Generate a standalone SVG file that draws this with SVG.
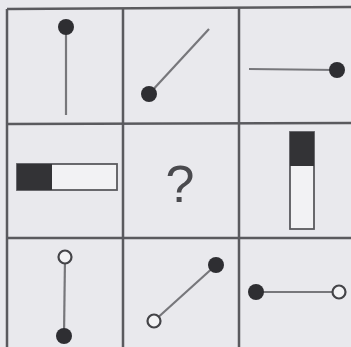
<svg xmlns="http://www.w3.org/2000/svg" width="351" height="347" viewBox="0 0 351 347">
<style>
.grid{stroke:#5a5a5e;stroke-width:2.5;fill:none}
.stick{stroke:#77777b;stroke-width:2.2;fill:none}
.dot{fill:#2e2e32}
.ring{fill:#f2f2f4;stroke:#444448;stroke-width:2.2}
.box{fill:#f2f2f4;stroke:#5a5a5e;stroke-width:1.8}
.dark{fill:#333336}
.q{font-family:"Liberation Sans",Arial,sans-serif;font-size:52px;fill:#4a4a4e;text-anchor:middle}
</style>
<rect width="351" height="347" fill="#e9e9ed"/>
<g id="grid">
<line class="grid" x1="7" y1="9" x2="351" y2="7"/>
<line class="grid" x1="7" y1="124" x2="351" y2="123"/>
<line class="grid" x1="7" y1="238" x2="351" y2="238"/>
<line class="grid" x1="7" y1="9" x2="7" y2="347"/>
<line class="grid" x1="123" y1="9" x2="123" y2="347"/>
<line class="grid" x1="239" y1="8" x2="239" y2="347"/>
</g>
<g id="c11"><line class="stick" x1="66" y1="27" x2="66" y2="115"/><circle class="dot" cx="66" cy="27" r="8"/></g>
<g id="c12"><line class="stick" x1="149" y1="94" x2="209" y2="29"/><circle class="dot" cx="149" cy="94" r="8"/></g>
<g id="c13"><line class="stick" x1="249" y1="69" x2="337" y2="70"/><circle class="dot" cx="337" cy="70" r="8"/></g>
<g id="c21"><rect class="box" x="17" y="164" width="100" height="26"/><rect class="dark" x="17" y="164" width="35" height="26"/></g>
<g id="c22"><text class="q" x="180" y="202">?</text></g>
<g id="c23"><rect class="box" x="290" y="132" width="24" height="97"/><rect class="dark" x="290" y="132" width="24" height="34"/></g>
<g id="c31"><line class="stick" x1="65" y1="257" x2="64" y2="336"/><circle class="ring" cx="65" cy="257" r="6.5"/><circle class="dot" cx="64" cy="336" r="8"/></g>
<g id="c32"><line class="stick" x1="154" y1="321" x2="216" y2="265"/><circle class="ring" cx="154" cy="321" r="6.5"/><circle class="dot" cx="216" cy="265" r="8"/></g>
<g id="c33"><line class="stick" x1="256" y1="292" x2="339" y2="292"/><circle class="dot" cx="256" cy="292" r="8"/><circle class="ring" cx="339" cy="292" r="6.5"/></g>
</svg>
